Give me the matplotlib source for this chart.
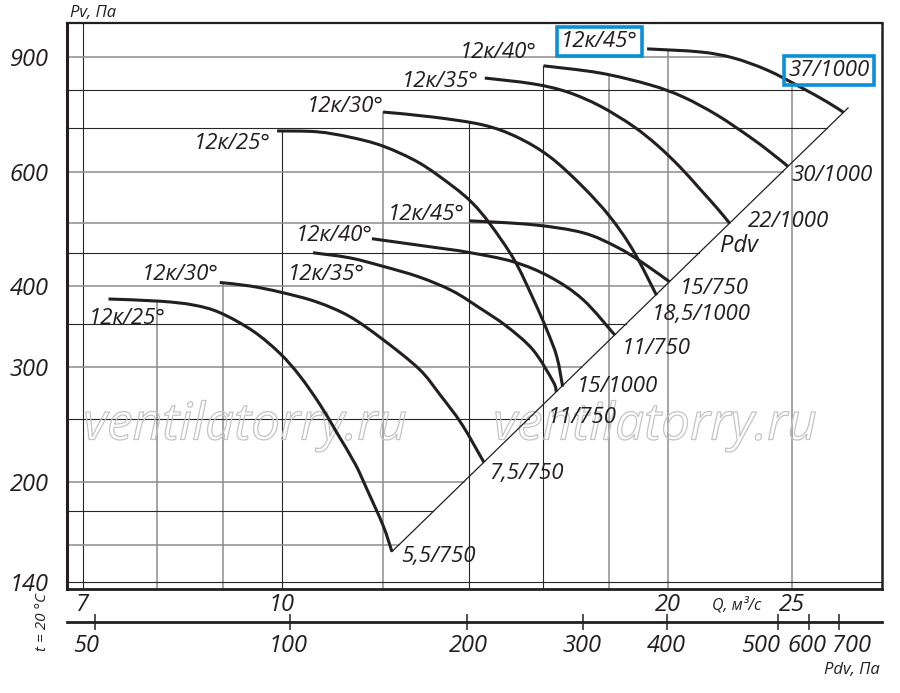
import numpy as np
import matplotlib
matplotlib.use("Agg")
import matplotlib.pyplot as plt
import matplotlib.patheffects as pe
from matplotlib.path import Path
from matplotlib.patches import PathPatch
from matplotlib.ticker import NullLocator
from matplotlib.transforms import blended_transform_factory, offset_copy

plt.rcParams['font.family'] = ['Open Sans', 'DejaVu Sans']
plt.rcParams['font.style'] = 'italic'

INK = '#231f20'

# grid and ticks (Q, m3/s and Pv, Pa)
q_grid = [7, 8, 9, 10, 12, 14, 16, 18, 20, 25]
p_grid = [140, 160, 180, 200, 250, 300, 350, 400, 450, 500, 600, 700, 800, 900]
q_ticks = [7, 10, 20, 25]
p_ticks = [140, 200, 300, 400, 600, 900]

# Pdv scale under the chart, tick places given on the Q scale
pdv_ticks = [50, 100, 200, 300, 400, 500, 600, 700]
pdv_tick_q = [7.15, 10.15, 13.95, 17.18, 19.97, 24.38, 25.77, 27.2]

# 750 rpm curves
q_750_25 = [7.33, 8.04, 8.53, 8.95, 9.50, 9.97, 10.33, 10.71, 11.04, 11.41, 11.65, 12.0, 12.19]
p_750_25 = [382, 379, 374, 364, 341, 315, 291, 263, 238, 213, 195, 171, 156]
q_750_30 = [8.95, 9.45, 10.0, 10.65, 11.30, 11.99, 12.80, 13.29, 13.82, 14.38]
p_750_30 = [405, 400, 391, 378, 359, 331, 298, 272, 245, 214]
q_750_35 = [10.58, 11.30, 11.99, 12.80, 13.59, 14.27, 14.97, 15.70, 16.28, 16.37]
p_750_35 = [450, 442, 429, 413, 393, 370, 347, 319, 285, 275]
q_750_40 = [11.76, 13.12, 13.95, 15.15, 16.19, 17.18, 18.19]
p_750_40 = [473, 459, 451, 436, 413, 381, 336]
q_750_45 = [14.0, 15.70, 17.18, 18.26, 19.13, 20.06]
p_750_45 = [504, 497, 483, 459, 434, 406]

# 1000 rpm curves
q_1000_25 = [9.92, 10.65, 11.30, 11.99, 12.80, 13.59, 14.08, 14.54, 15.18, 15.70, 16.10, 16.39, 16.56]
p_1000_25 = [693, 691, 678, 657, 619, 570, 537, 498, 439, 383, 342, 311, 280]
q_1000_30 = [12.0, 13.12, 14.35, 15.26, 16.19, 17.18, 18.03, 18.79, 19.6]
p_1000_30 = [741, 728, 708, 678, 632, 568, 511, 454, 387]
q_1000_35 = [14.40, 15.70, 16.69, 17.71, 18.79, 19.62, 20.44, 21.19, 21.85, 22.34]
p_1000_35 = [836, 819, 796, 757, 705, 659, 610, 564, 527, 500]
q_1000_40 = [16.0, 17.71, 19.37, 20.55, 21.85, 23.18, 24.03, 24.82]
p_1000_40 = [873, 851, 816, 782, 733, 678, 643, 611]
q_1000_45 = [19.27, 21.19, 22.48, 23.90, 25.36, 26.62, 27.42]
p_1000_45 = [927, 917, 898, 860, 810, 768, 740]

# Pdv line through the curve ends
pdv_line_q = [12.19, 27.64]
pdv_line_p = [156, 752]

angle_labels = ['12к/25°', '12к/30°', '12к/35°', '12к/40°', '12к/45°']
motor_750 = ['5,5/750', '7,5/750', '11/750', '11/750', '15/750']
motor_1000 = ['15/1000', '18,5/1000', '22/1000', '30/1000', '37/1000']

curves = [(q_750_25, p_750_25), (q_750_30, p_750_30), (q_750_35, p_750_35),
          (q_750_40, p_750_40), (q_750_45, p_750_45),
          (q_1000_25, p_1000_25), (q_1000_30, p_1000_30), (q_1000_35, p_1000_35),
          (q_1000_40, p_1000_40), (q_1000_45, p_1000_45)]

Q_MIN, Q_MAX = 6.80, 29.36
P_MIN, P_MAX = 136.5, 1015

fig = plt.figure(figsize=(9, 6.93), dpi=100)
ax = fig.add_axes([0.0741, 0.1496, 0.9056, 0.8168])
ax.set_xscale('log')
ax.set_yscale('log')
ax.set_xlim(Q_MIN, Q_MAX)
ax.set_ylim(P_MIN, P_MAX)


def log_interp(x, xs, ys):
    return np.exp(np.interp(np.log(x), np.log(xs), np.log(ys)))


def smooth_path(qs, ps):
    # bezier segments through the read points (catmull-rom in log space)
    pts = np.column_stack([np.log(qs), np.log(ps)])
    n = len(pts)
    verts = [pts[0]]
    codes = [Path.MOVETO]
    for i in range(n - 1):
        p0 = pts[i - 1] if i > 0 else pts[i]
        p1 = pts[i]
        p2 = pts[i + 1]
        p3 = pts[i + 2] if i + 2 < n else pts[i + 1]
        verts += [p1 + (p2 - p0) / 6, p2 - (p3 - p1) / 6, p2]
        codes += [Path.CURVE4] * 3
    return Path(np.exp(np.array(verts)), codes)


# vertical grid lines go up to the highest curve above them
grey_q = [8, 9, 12, 18, 20, 25]
for q in q_grid:
    top = None
    for cq, cp in curves:
        if cq[0] <= q <= cq[-1]:
            v = log_interp(q, cq, cp)
            top = v if top is None else max(top, v)
    if top is None:
        top = P_MAX
    if q in grey_q:
        ax.plot([q, q], [P_MIN, top], color='#8c8c8c', lw=1.1, zorder=1)
    else:
        ax.plot([q, q], [P_MIN, top], color='#262626', lw=0.8, zorder=1)

# horizontal grid lines stop at the Pdv line (or at the top curve)
grey_p = [160, 200, 300, 400, 500, 600, 900]
for p in p_grid:
    if p < pdv_line_p[0]:
        right = Q_MAX
    elif p <= pdv_line_p[1]:
        right = log_interp(p, pdv_line_p, pdv_line_q)
    else:
        right = log_interp(p, p_1000_45[::-1], q_1000_45[::-1])
    if p in grey_p:
        ax.plot([Q_MIN, right], [p, p], color='#8c8c8c', lw=1.1, zorder=1)
    else:
        ax.plot([Q_MIN, right], [p, p], color='#262626', lw=0.8, zorder=1)

# watermark
for xf in [0.2188, 0.7218]:
    ax.text(xf, 0.2885, 'ventilatorry.ru', transform=ax.transAxes, fontsize=37,
            ha='center', va='center', color='none', zorder=1.5,
            path_effects=[pe.Stroke(linewidth=0.9, foreground='#c4c4c4')])

# Pdv line
ax.plot(pdv_line_q, pdv_line_p, color=INK, lw=0.9, zorder=2)

for cq, cp in curves:
    ax.add_patch(PathPatch(smooth_path(cq, cp), fc='none', ec=INK, lw=2.2,
                           capstyle='butt', zorder=3))

# curve labels
lab_kw = dict(fontsize=16, color=INK, ha='center', va='center', zorder=4)
pos_750 = [(7.58, 356), (8.33, 416), (10.83, 417), (11.0, 478), (12.96, 516)]
pos_1000 = [(9.15, 664), (11.20, 755), (13.29, 827), (14.74, 914), (17.68, 950)]
pos_m750 = [(13.24, 153.5), (15.53, 206), (17.14, 251), (19.58, 320), (21.73, 397)]
pos_m1000 = [(18.26, 280.5), (21.23, 361), (24.82, 502), (26.86, 591), (26.71, 860)]

box = dict(boxstyle='square,pad=0.18', fc='none', ec='#0a8fd9', lw=2.6)
for i in range(5):
    ax.text(*pos_750[i], angle_labels[i], **lab_kw)
    ax.text(*pos_m750[i], motor_750[i], **lab_kw)
    if i == 4:
        ax.text(*pos_1000[i], angle_labels[i], bbox=box, **lab_kw)
        ax.text(*pos_m1000[i], motor_1000[i], bbox=box, **lab_kw)
    else:
        ax.text(*pos_1000[i], angle_labels[i], **lab_kw)
        ax.text(*pos_m1000[i], motor_1000[i], **lab_kw)
ax.text(22.73, 461, 'Pdv', fontsize=17, color=INK, ha='center', va='center', zorder=4)

# axes frame and ticks
ax.xaxis.set_minor_locator(NullLocator())
ax.yaxis.set_minor_locator(NullLocator())
ax.set_xticks(q_ticks, labels=[str(v) for v in q_ticks])
ax.set_yticks(p_ticks, labels=[str(v) for v in p_ticks])
ax.tick_params(axis='x', length=0, labelsize=17, pad=3, labelcolor=INK)
ax.tick_params(axis='y', length=0, labelsize=17, pad=13, labelcolor=INK)
for side, lw in [('left', 2.2), ('bottom', 2.0), ('top', 1.6), ('right', 1.8)]:
    ax.spines[side].set_linewidth(lw)
    ax.spines[side].set_color(INK)

# Pdv scale
ax2 = fig.add_axes([0.0741, 1 - 621.7 / 693, 0.9056, 0.001])
ax2.set_xscale('log')
ax2.set_xlim(Q_MIN, Q_MAX)
ax2.patch.set_visible(False)
for side in ['left', 'right', 'top']:
    ax2.spines[side].set_visible(False)
ax2.spines['bottom'].set_linewidth(2.0)
ax2.spines['bottom'].set_color(INK)
ax2.set_yticks([])
ax2.xaxis.set_minor_locator(NullLocator())
ax2.set_xticks(pdv_tick_q, labels=[''] * len(pdv_tick_q))
ax2.tick_params(axis='x', direction='inout', length=11, width=1.1, color=INK)

pdv_dx = [-9, -2, 1, -1, -1, -18, -2, 12]
trans = blended_transform_factory(ax2.transData, fig.transFigure)
for q, v, dx in zip(pdv_tick_q, pdv_ticks, pdv_dx):
    fig.text(q, 1 - 646 / 693, str(v), transform=offset_copy(trans, fig=fig, x=dx, y=0, units='dots'),
             fontsize=17, color=INK, ha='center', va='center')

fig.text(70 / 900, 1 - 13 / 693, 'Pv, Па', fontsize=12, color=INK, ha='left', va='center')
fig.text(737 / 900, 1 - 605 / 693, 'Q, м³/с', fontsize=11.5, color=INK, ha='center', va='center')
fig.text(880 / 900, 1 - 670 / 693, 'Pdv, Па', fontsize=12, color=INK, ha='right', va='center')
fig.text(43 / 900, 1 - 622 / 693, 't = 20 °C', fontsize=11, color=INK, ha='center', va='center',
         rotation=90)

fig.savefig('out.png', dpi=100)
